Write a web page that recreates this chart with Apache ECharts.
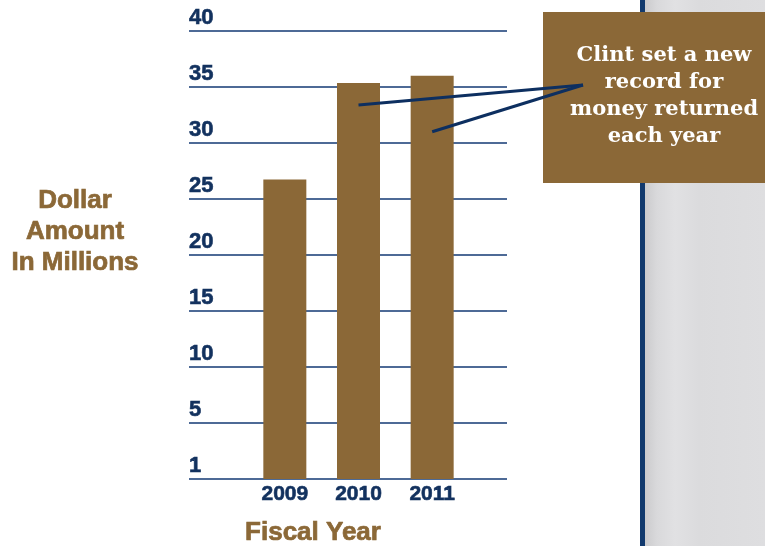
<!DOCTYPE html>
<html>
<head>
<meta charset="utf-8">
<script src="https://cdn.jsdelivr.net/npm/echarts@6/dist/echarts.min.js"></script>
<style>html,body{margin:0;padding:0;background:#fff;}#c{width:765px;height:546px;}</style>
</head>
<body>
<div id="c"></div>
<script>
var categories = ['2009', '2010', '2011'];
var values = [26.75, 35.35, 36.0];
var tickLabels = ['1', '5', '10', '15', '20', '25', '30', '35', '40'];
var pointerValues = [33.4, 31.0];
var pointerCats = ['2010', '2011'];
var yTitle = 'Dollar\nAmount\nIn Millions';
var xTitle = 'Fiscal Year';
var note = 'Clint set a new\nrecord for\nmoney returned\neach year';

var navy = '#12315e';
var brown = '#8b6837';
var chart = echarts.init(document.getElementById('c'), null, {renderer: 'canvas'});

var option = {
  animation: false,
  backgroundColor: '#ffffff',
  grid: [
    {left: 189, right: 258, top: 31, bottom: 67},
    {left: 248, right: 296, top: 31, bottom: 67}
  ],
  xAxis: [
    {gridIndex: 0, type: 'value', min: 0, max: 1, show: false},
    {gridIndex: 1, type: 'category', data: categories,
     axisLine: {show: false}, axisTick: {show: false},
     axisLabel: {color: navy, fontFamily: 'Liberation Sans', fontWeight: 'bold', fontSize: 21, margin: 5,
       textBorderColor: navy, textBorderWidth: 0.6}}
  ],
  yAxis: [
    {gridIndex: 0, type: 'value', min: 0, max: 40, interval: 5,
     axisLine: {show: false}, axisTick: {show: false},
     splitLine: {show: true, lineStyle: {color: '#4d6a96', width: 2}},
     axisLabel: {inside: true, align: 'left', verticalAlign: 'bottom', margin: 0, padding: [0, 0, 2, 0],
       color: navy, fontFamily: 'Liberation Sans', fontWeight: 'bold', fontSize: 22, lineHeight: 22,
       textBorderColor: navy, textBorderWidth: 0.6,
       formatter: function (v) { return tickLabels[Math.round(v / 5)]; }}},
    {gridIndex: 1, type: 'value', min: 0, max: 40, interval: 5, show: false, splitLine: {show: false}}
  ],
  series: [
    {type: 'bar', xAxisIndex: 1, yAxisIndex: 1, data: values, barWidth: 43, z: 3,
     itemStyle: {color: brown}}
  ],
  graphic: []
};
chart.setOption(option);

var g = [
  {type: 'rect', z: 0, shape: {x: 645, y: 0, width: 120, height: 546},
   style: {fill: new echarts.graphic.LinearGradient(0, 0, 1, 0, [
     {offset: 0, color: '#cbcbcd'}, {offset: 0.1, color: '#d9d9db'}, {offset: 0.25, color: '#e1e1e3'},
     {offset: 0.45, color: '#dbdbdd'}, {offset: 1, color: '#dedee0'}])}},
  {type: 'rect', z: 1, shape: {x: 640, y: 0, width: 5, height: 546}, style: {fill: '#123a6e'}},
  {type: 'rect', z: 5, shape: {x: 543, y: 12, width: 230, height: 171}, style: {fill: brown}},
  {type: 'text', z: 6, x: 664, y: 96,
   style: {text: note, fill: '#ffffff', font: 'bold 21px "DejaVu Serif"', align: 'center', verticalAlign: 'middle', lineHeight: 27}},
  {type: 'text', z: 6, x: 75, y: 232,
   style: {text: yTitle, fill: brown, font: 'bold 26px "Liberation Sans"', align: 'center', verticalAlign: 'middle', lineHeight: 31,
     stroke: brown, lineWidth: 0.7}},
  {type: 'text', z: 6, x: 313, y: 533,
   style: {text: xTitle, fill: brown, font: 'bold 26px "Liberation Sans"', align: 'center', verticalAlign: 'middle',
     stroke: brown, lineWidth: 0.7}}
];
var endPt = [583, 85];
for (var i = 0; i < pointerValues.length; i++) {
  var p = chart.convertToPixel({xAxisIndex: 1, yAxisIndex: 1}, [pointerCats[i], pointerValues[i]]);
  g.push({type: 'line', z: 7, shape: {x1: p[0], y1: p[1], x2: endPt[0], y2: endPt[1]},
          style: {stroke: '#0d2f60', lineWidth: 3}});
}
chart.setOption({graphic: g});
</script>
</body>
</html>
